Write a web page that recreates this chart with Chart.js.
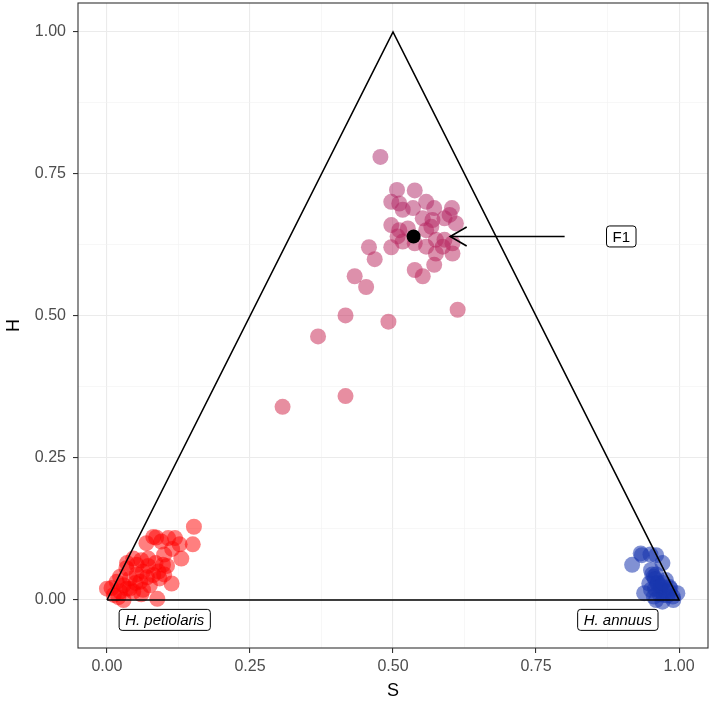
<!DOCTYPE html>
<html>
<head>
<meta charset="utf-8">
<script src="https://cdn.jsdelivr.net/npm/chart.js@4"></script>
<style>
    html, body { margin: 0; padding: 0; background: #ffffff; }
    #wrap { width: 709px; height: 709px; }
</style>
</head>
<body>
<div id="wrap"><canvas id="triangleChart"></canvas></div>
<script>
// H. petiolaris (S, H)
var petiolarisS = [0.152, 0.069, 0.081, 0.095, 0.107, 0.119, 0.127, 0.150, 0.130, 0.113, 0.088, 0.008, 0.029, 0.046, 0.072, 0.098, 0.052, 0.034, 0.023, 0.017, 0.029, 0.040, 0.063, 0.081, 0.092, 0.058, 0.075, 0.046, 0.063, 0.052, 0.072, 0.040, 0.023, 0.012, 0.000, 0.100, 0.086, 0.114, 0.035, 0.060, 0.085, 0.090, 0.070, 0.050, 0.035, 0.060, 0.020, 0.100, 0.105];
var petiolarisH = [0.129, 0.100, 0.111, 0.103, 0.109, 0.109, 0.098, 0.098, 0.073, 0.029, 0.002, 0.021, 0.000, 0.073, 0.073, 0.062, 0.062, 0.056, 0.041, 0.032, 0.026, 0.038, 0.050, 0.044, 0.038, 0.032, 0.026, 0.015, 0.018, 0.045, 0.060, 0.020, 0.015, 0.009, 0.020, 0.080, 0.110, 0.090, 0.065, 0.070, 0.065, 0.050, 0.040, 0.030, 0.020, 0.010, 0.005, 0.045, 0.060];

// H. annuus
var annuusS = [0.918, 0.935, 0.960, 0.971, 0.951, 0.956, 0.948, 0.939, 0.971, 0.997, 0.983, 0.965, 0.977, 0.956, 0.989, 0.951, 0.962, 0.973, 0.983, 0.950, 0.960, 0.968, 0.933, 0.953, 0.958, 0.963, 0.968, 0.975, 0.980, 0.966, 0.958, 0.972, 0.985, 0.990, 0.960];
var annuusH = [0.062, 0.079, 0.079, 0.065, 0.053, 0.041, 0.029, 0.012, -0.003, 0.012, 0.023, 0.018, 0.035, 0.006, 0.006, 0.018, 0.029, 0.009, 0.015, 0.080, 0.045, 0.025, 0.082, 0.045, 0.037, 0.030, 0.022, 0.016, 0.008, 0.010, 0.020, 0.030, 0.020, 0.000, 0.000];

// hybrids
var hybridS = [0.478, 0.507, 0.538, 0.497, 0.511, 0.517, 0.535, 0.558, 0.572, 0.603, 0.599, 0.610, 0.590, 0.569, 0.552, 0.567, 0.558, 0.497, 0.511, 0.526, 0.508, 0.517, 0.497, 0.538, 0.558, 0.575, 0.590, 0.604, 0.575, 0.604, 0.587, 0.538, 0.552, 0.572, 0.458, 0.468, 0.433, 0.453, 0.417, 0.492, 0.613, 0.369, 0.307, 0.417];
var hybridH = [0.780, 0.722, 0.721, 0.701, 0.698, 0.687, 0.690, 0.701, 0.690, 0.690, 0.678, 0.663, 0.672, 0.669, 0.672, 0.657, 0.651, 0.660, 0.651, 0.654, 0.640, 0.631, 0.621, 0.628, 0.622, 0.634, 0.634, 0.628, 0.610, 0.610, 0.622, 0.581, 0.570, 0.590, 0.621, 0.600, 0.570, 0.551, 0.501, 0.490, 0.511, 0.464, 0.340, 0.359];

// expected F1
var f1S = [0.536];
var f1H = [0.640];

var triangleS = [0, 0.5, 1, 0];
var triangleH = [0, 1, 0, 0];

var arrowS = [0.80, 0.60];
var arrowH = [0.64, 0.64];

var labelTexts = ["F1", "H. petiolaris", "H. annuus"];
var labelS = [0.899, 0.101, 0.893];
var labelH = [0.640, -0.035, -0.035];
var labelItalic = [false, true, true];

var axisTicks = [0, 0.25, 0.5, 0.75, 1];
var minorTicks = [0.125, 0.375, 0.625, 0.875];

function toPoints(xs, ys) {
    return xs.map((x, i) => ({ x: x, y: ys[i] }));
}

// hybrids go from reddish pink (low H) to mauve (high H)
function hybridColor(h) {
    let t = Math.max(0, Math.min(1, (h - 0.3) / 0.45));
    let r = Math.round(212 + (172 - 212) * t);
    let g = Math.round(28 + (38 - 28) * t);
    let b = Math.round(62 + (105 - 62) * t);
    return `rgba(${r},${g},${b},0.5)`;
}

var allTicks = axisTicks.concat(minorTicks).sort((a, b) => a - b);
function isMajor(v) {
    return axisTicks.some(t => Math.abs(t - v) < 1e-9);
}

const panelBorder = {
    id: 'panelBorder',
    afterDraw(chart) {
        let ctx = chart.ctx;
        let a = chart.chartArea;
        ctx.save();
        ctx.strokeStyle = '#333333';
        ctx.lineWidth = 1.1;
        ctx.strokeRect(a.left, a.top, a.right - a.left, a.bottom - a.top);
        ctx.restore();
    }
};

const arrowAndLabels = {
    id: 'arrowAndLabels',
    afterDatasetsDraw(chart) {
        let ctx = chart.ctx;
        let xs = chart.scales.x;
        let ys = chart.scales.y;

        // arrow head (open chevron) at the end of the arrow line
        let x0 = xs.getPixelForValue(arrowS[0]);
        let y0 = ys.getPixelForValue(arrowH[0]);
        let x1 = xs.getPixelForValue(arrowS[1]);
        let y1 = ys.getPixelForValue(arrowH[1]);
        let ang = Math.atan2(y1 - y0, x1 - x0);
        let len = 19;
        ctx.save();
        ctx.strokeStyle = '#000000';
        ctx.lineWidth = 1.6;
        ctx.beginPath();
        ctx.moveTo(x1 - len * Math.cos(ang - Math.PI / 6), y1 - len * Math.sin(ang - Math.PI / 6));
        ctx.lineTo(x1, y1);
        ctx.lineTo(x1 - len * Math.cos(ang + Math.PI / 6), y1 - len * Math.sin(ang + Math.PI / 6));
        ctx.stroke();
        ctx.restore();

        // boxed labels
        labelTexts.forEach((text, i) => {
            let cx = xs.getPixelForValue(labelS[i]);
            let cy = ys.getPixelForValue(labelH[i]);
            ctx.save();
            ctx.font = (labelItalic[i] ? 'italic ' : '') + '15px "Liberation Sans", Arial, sans-serif';
            let w = ctx.measureText(text).width + 12;
            let h = 21;
            let x = cx - w / 2;
            let y = cy - h / 2;
            ctx.beginPath();
            ctx.roundRect(x, y, w, h, 3);
            ctx.fillStyle = '#ffffff';
            ctx.fill();
            ctx.strokeStyle = '#000000';
            ctx.lineWidth = 1;
            ctx.stroke();
            ctx.fillStyle = '#000000';
            ctx.textAlign = 'center';
            ctx.textBaseline = 'middle';
            ctx.fillText(text, cx, cy + 1);
            ctx.restore();
        });
    }
};

function axisOptions(title, min, max, isY) {
    return {
        type: 'linear',
        min: min,
        max: max,
        afterBuildTicks: scale => { scale.ticks = allTicks.map(v => ({ value: v })); },
        afterFit: scale => {
            if (isY) {
                scale.width = 78;
            } else {
                scale.height = 61;
            }
            // no extra room for overhanging tick labels
            scale.paddingTop = 0;
            scale.paddingBottom = 0;
            scale.paddingLeft = 0;
            scale.paddingRight = 0;
        },
        grid: {
            color: c => isMajor(c.tick.value) ? '#ebebeb' : '#f2f2f2',
            lineWidth: c => isMajor(c.tick.value) ? 1.1 : 0.6,
            tickColor: c => isMajor(c.tick.value) ? '#333333' : 'rgba(0,0,0,0)',
            tickLength: 5,
            drawOnChartArea: true
        },
        border: { display: false },
        ticks: {
            color: '#4d4d4d',
            font: { family: '"Liberation Sans", Arial, sans-serif', size: 16 },
            padding: isY ? 7 : 4,
            autoSkip: false,
            maxRotation: 0,
            callback: v => isMajor(v) ? v.toFixed(2) : ''
        },
        title: {
            display: true,
            text: title,
            color: '#000000',
            font: { family: '"Liberation Sans", Arial, sans-serif', size: 18 },
            padding: isY ? { top: 3, bottom: 0 } : { top: 0, bottom: 7 }
        }
    };
}

Chart.defaults.font.family = '"Liberation Sans", Arial, sans-serif';

var triangleChart = new Chart(
    document.getElementById('triangleChart'),
    {
        type: 'scatter',
        data: {
            datasets: [
                {
                    label: 'F1',
                    data: toPoints(f1S, f1H),
                    backgroundColor: '#000000',
                    pointRadius: 7,
                    borderWidth: 0,
                    order: 0
                },
                {
                    label: 'triangle',
                    data: toPoints(triangleS, triangleH),
                    showLine: true,
                    borderColor: '#000000',
                    borderWidth: 1.6,
                    pointRadius: 0,
                    order: 1
                },
                {
                    label: 'arrow',
                    data: toPoints(arrowS, arrowH),
                    showLine: true,
                    borderColor: '#000000',
                    borderWidth: 1.6,
                    pointRadius: 0,
                    order: 1
                },
                {
                    label: 'hybrids',
                    data: toPoints(hybridS, hybridH),
                    backgroundColor: hybridH.map(h => hybridColor(h)),
                    pointRadius: 8,
                    borderWidth: 0,
                    order: 2
                },
                {
                    label: 'H. petiolaris',
                    data: toPoints(petiolarisS, petiolarisH),
                    backgroundColor: 'rgba(255,0,0,0.5)',
                    pointRadius: 8,
                    borderWidth: 0,
                    order: 3
                },
                {
                    label: 'H. annuus',
                    data: toPoints(annuusS, annuusH),
                    backgroundColor: 'rgba(25,55,175,0.55)',
                    pointRadius: 8,
                    borderWidth: 0,
                    order: 3
                }
            ]
        },
        options: {
            responsive: true,
            maintainAspectRatio: false,
            animation: false,
            layout: { autoPadding: false, padding: { top: 3, right: 1, left: 0, bottom: 0 } },
            plugins: {
                legend: { display: false },
                tooltip: { enabled: false }
            },
            scales: {
                x: axisOptions('S', -0.0506, 1.0506, false),
                y: axisOptions('H', -0.0845, 1.051, true)
            }
        },
        plugins: [panelBorder, arrowAndLabels]
    }
);
</script>
</body>
</html>
